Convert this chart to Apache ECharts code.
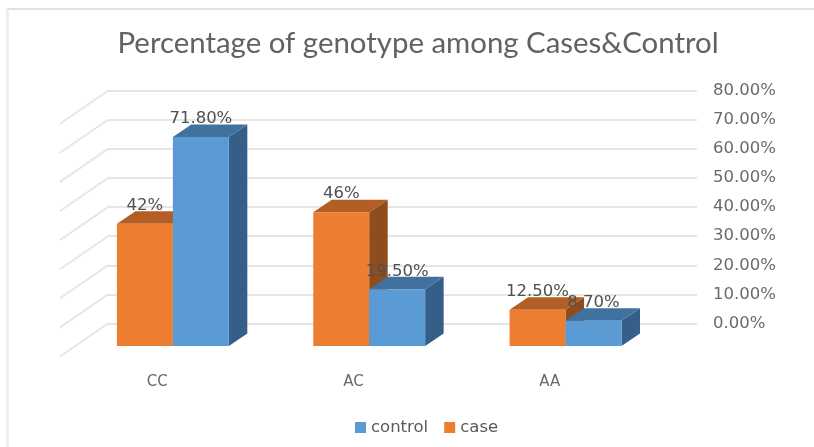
<!DOCTYPE html>
<html>
<head>
<meta charset="utf-8">
<style>
html, body { margin: 0; padding: 0; background: #fff; }
.frame {
    position: absolute;
    left: 6px;
    top: 8px;
    width: 805px;
    height: 437px;
    border-left: 3px solid #efefef;
    border-top: 2px solid #e2e2e2;
}
#chart { position: absolute; left: 0; top: 0; width: 814px; height: 447px; }
</style>
</head>
<body>
<div class="frame"></div>
<div id="chart"></div>
<script src="https://cdn.jsdelivr.net/npm/echarts@6/dist/echarts.min.js"></script>
<script>
const categories = ['CC', 'AC', 'AA'];
const caseValues = [42, 46, 12.5];
const controlValues = [71.8, 19.5, 8.7];
const caseLabels = ['42%', '46%', '12.50%'];
const controlLabels = ['71.80%', '19.50%', '8.70%'];
const yTicks = [0, 10, 20, 30, 40, 50, 60, 70, 80];

const TITLE_FONT = 'Lato, "Open Sans", sans-serif';
const FONT = '"DejaVu Sans", sans-serif';

// oblique projection of the fake 3d box
const wallDx = -48, wallDy = 33;     // back wall -> front floor edge
const frontDx = -33.3, frontDy = 22.5; // back wall -> front face of a bar
const depthDx = 18.5, depthDy = -12.5; // bar depth
const barRatio = 0.285;

function pts(arr) {
    return { points: arr };
}

// left/right edge of a bar's front face, side -1 = left of the category centre
function barEdges(api, side) {
    let base = api.coord([api.value(0), 0]);
    let top = api.coord([api.value(0), api.value(1)]);
    let w = api.size([1, 0])[0] * barRatio;
    let x0 = base[0] + frontDx + (side < 0 ? -w : 0);
    return { x0: x0, x1: x0 + w, y0: base[1] + frontDy, y1: top[1] + frontDy };
}

function barSeries(name, values, side, colors) {
    return {
        name: name,
        type: 'custom',
        z: 3,
        itemStyle: { color: colors.front },
        data: values.map((v, i) => [i, v]),
        renderItem: function (params, api) {
            let b = barEdges(api, side);
            return {
                type: 'group',
                children: [
                    {
                        type: 'polygon',
                        shape: pts([[b.x1, b.y0], [b.x1 + depthDx, b.y0 + depthDy], [b.x1 + depthDx, b.y1 + depthDy], [b.x1, b.y1]]),
                        style: { fill: colors.side }
                    },
                    {
                        type: 'polygon',
                        shape: pts([[b.x0, b.y1], [b.x0 + depthDx, b.y1 + depthDy], [b.x1 + depthDx, b.y1 + depthDy], [b.x1, b.y1]]),
                        style: { fill: colors.top }
                    },
                    {
                        type: 'rect',
                        shape: { x: b.x0, y: b.y1, width: b.x1 - b.x0, height: b.y0 - b.y1 },
                        style: { fill: colors.front }
                    }
                ]
            };
        }
    };
}

// labels go in their own series so they sit above every bar
function labelSeries(values, labels, side) {
    return {
        type: 'custom',
        silent: true,
        z: 5,
        data: values.map((v, i) => [i, v]),
        renderItem: function (params, api) {
            let b = barEdges(api, side);
            return {
                type: 'text',
                style: {
                    x: (b.x0 + b.x1) / 2,
                    y: b.y1 - 18,
                    text: labels[params.dataIndex],
                    fill: '#505050',
                    font: '16.5px ' + FONT,
                    align: 'center',
                    verticalAlign: 'middle'
                }
            };
        }
    };
}

let myChart = echarts.init(document.getElementById('chart'), null, { renderer: 'canvas' });
myChart.setOption({
    animation: false,
    backgroundColor: 'transparent',
    title: {
        text: 'Percentage of genotype among Cases&Control',
        left: 112.5,
        top: 24,
        textStyle: { color: '#626262', fontSize: 29.4, fontWeight: 'normal', fontFamily: TITLE_FONT }
    },
    legend: {
        data: ['control', 'case'],
        left: 350,
        top: 414,
        icon: 'rect',
        itemWidth: 11,
        itemHeight: 11,
        itemGap: 16,
        textStyle: { color: '#595959', fontSize: 16.5, fontFamily: FONT }
    },
    grid: { left: 108, right: 117, top: 90.7, bottom: 123.5 },
    xAxis: {
        type: 'category',
        data: categories,
        axisLine: { show: false },
        axisTick: { show: false },
        axisLabel: {
            color: '#6a6a6a',
            fontSize: 15,
            fontFamily: FONT,
            margin: 51,
            padding: [0, 98, 0, 0]
        }
    },
    yAxis: {
        type: 'value',
        position: 'right',
        min: 0,
        max: 80,
        interval: 10,
        axisLine: { show: false },
        axisTick: { show: false },
        axisLabel: {
            color: '#6a6a6a',
            fontSize: 16.5,
            fontFamily: FONT,
            margin: 16,
            align: 'left',
            padding: [5, 0, 0, 0],
            formatter: v => v.toFixed(2) + '%'
        },
        splitLine: { show: true, lineStyle: { color: '#e6e6e6', width: 2 } }
    },
    series: [
        {
            type: 'custom',
            silent: true,
            z: 1,
            data: yTicks.map(t => [0, t]),
            renderItem: function (params, api) {
                let y = api.coord([0, api.value(1)])[1];
                let x = params.coordSys.x;
                return {
                    type: 'line',
                    shape: { x1: x, y1: y, x2: x + wallDx, y2: y + wallDy },
                    style: { stroke: '#e6e6e6', lineWidth: 2 }
                };
            }
        },
        barSeries('case', caseValues, -1, { front: '#ed7d31', top: '#b35e24', side: '#8f4d1e' }),
        barSeries('control', controlValues, 1, { front: '#5b9bd5', top: '#41719f', side: '#355f88' }),
        labelSeries(caseValues, caseLabels, -1),
        labelSeries(controlValues, controlLabels, 1)
    ]
});
</script>
</body>
</html>
